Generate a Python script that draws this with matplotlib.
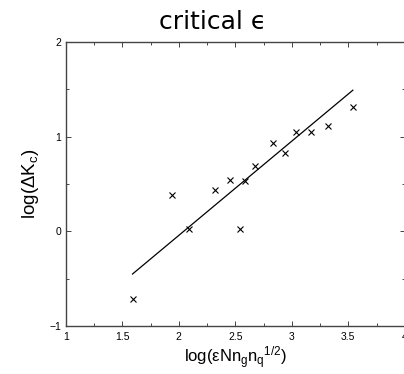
"""Recrea el grafico 'critical epsilon': log(dK_c) frente a log(eps N n_g n_q^1/2)."""

import matplotlib

matplotlib.use("Agg")
import matplotlib.pyplot as plt  # noqa: E402
from matplotlib.ticker import MultipleLocator  # noqa: E402

# Datos
log_x = [1.59, 1.94, 2.09, 2.32, 2.45, 2.54, 2.59, 2.67, 2.83, 2.94, 3.04, 3.17, 3.32, 3.54]
log_dk = [-0.71, 0.38, 0.03, 0.44, 0.54, 0.02, 0.53, 0.69, 0.93, 0.83, 1.05, 1.05, 1.11, 1.31]

# Recta de ajuste (extremos)
ajuste_x = [1.59, 3.54]
ajuste_y = [-0.45, 1.49]

plt.rcParams["mathtext.fontset"] = "custom"
plt.rcParams["mathtext.rm"] = "Liberation Sans"
plt.rcParams["mathtext.it"] = "Liberation Sans:italic"

fig = plt.figure(figsize=(4.04, 3.74), dpi=100)
ax = fig.add_axes([0.163, 0.128, 0.839, 0.76])

ax.plot(ajuste_x, ajuste_y, color="black", linewidth=0.9)
ax.plot(log_x, log_dk, linestyle="none", marker="x", markersize=5,
        markeredgewidth=0.8, color="black")

ax.set_xlim(1, 4)
ax.set_ylim(-1, 2)
ax.xaxis.set_major_locator(MultipleLocator(0.5))
ax.xaxis.set_minor_locator(MultipleLocator(0.25))
ax.yaxis.set_major_locator(MultipleLocator(1))
ax.yaxis.set_minor_locator(MultipleLocator(0.5))
ax.xaxis.set_major_formatter(lambda v, p: f"{v:g}")
ax.yaxis.set_major_formatter(lambda v, p: f"{v:g}".replace("-", "\u2212"))

ax.tick_params(which="both", direction="in", top=True, right=True,
               labelsize=7.5, width=0.7, color="#444444")
ax.tick_params(which="major", length=3.5)
ax.tick_params(which="minor", length=2)
for lab in ax.get_xticklabels() + ax.get_yticklabels():
    lab.set_fontfamily("Liberation Sans")
ax.tick_params(axis="x", pad=4)

for lado in ax.spines.values():
    lado.set_color("#444444")
    lado.set_linewidth(1.0)

ax.set_xlabel(r"log(εNn$_\mathrm{g}$n$_\mathrm{q}{}^{1/2}$)", fontsize=12,
              fontfamily="Liberation Sans", labelpad=2)
ax.set_ylabel(r"log(ΔK$_\mathrm{c}$)", fontsize=13.5,
              fontfamily="Liberation Sans", labelpad=6)
fig.text(0.527, 0.94, "critical ϵ", fontsize=18, ha="center", va="center",
         fontfamily="DejaVu Sans")

fig.savefig("out.png", dpi=100)
